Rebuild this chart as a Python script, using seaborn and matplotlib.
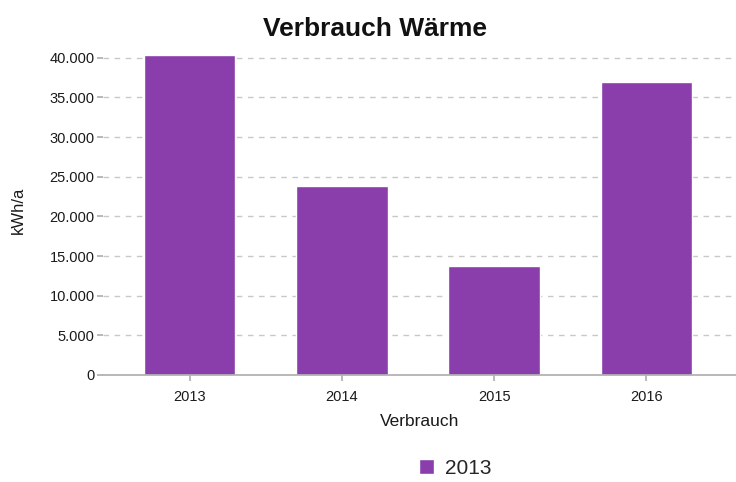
import matplotlib
matplotlib.use("Agg")
import matplotlib.pyplot as plt
import seaborn as sns
import pandas as pd
from matplotlib.ticker import FuncFormatter

categories = ["2013", "2014", "2015", "2016"]
values = [40300, 23850, 13750, 36950]
series_name = "2013"
yticks = [0, 5000, 10000, 15000, 20000, 25000, 30000, 35000, 40000]

df = pd.DataFrame({"Verbrauch": categories, "kWh/a": values, "Serie": [series_name] * len(categories)})

sns.set_theme(style="white")
plt.rcParams["font.family"] = ["Liberation Sans", "DejaVu Sans"]

fig = plt.figure(figsize=(7.36, 4.82), dpi=100)
ax = fig.add_axes([0.14, 0.222, 0.86, 0.683])

sns.barplot(data=df, x="Verbrauch", y="kWh/a", hue="Serie", palette=["#8a3eab"],
            width=0.6, saturation=1, ax=ax, dodge=False)

ax.set_xlim(-0.57, 3.59)
ax.set_ylim(0, 41500)
ax.set_yticks(yticks)
ax.yaxis.set_major_formatter(FuncFormatter(lambda v, p: f"{int(v):,}".replace(",", ".")))
ax.grid(axis="y", linestyle=(0, (4, 4)), color="#c8c8c8", linewidth=1)
ax.set_axisbelow(True)
for s in ["top", "right", "left"]:
    ax.spines[s].set_visible(False)
ax.spines["bottom"].set_color("#b0b0b0")
ax.tick_params(axis="y", left=True, length=4, color="#b0b0b0", labelsize=10.5, pad=2,
               labelcolor="#1a1a1a")
ax.tick_params(axis="x", bottom=True, length=4, color="#b0b0b0", labelsize=10.5, pad=7,
               labelcolor="#1a1a1a")
ax.set_xlabel("Verbrauch", fontsize=12.5, labelpad=7, color="#1a1a1a")
ax.set_ylabel("kWh/a", fontsize=12, color="#1a1a1a")
ax.yaxis.set_label_coords(-0.122, 0.5)
fig.suptitle("Verbrauch Wärme", fontsize=19, fontweight="bold", x=0.51, y=0.965,
             color="#111111")

leg = ax.legend(loc="center", bbox_to_anchor=(0.556, -0.283), frameon=False,
                fontsize=15, handlelength=0.75, handleheight=0.75, handletextpad=0.5)

fig.savefig("out.png", dpi=100)
